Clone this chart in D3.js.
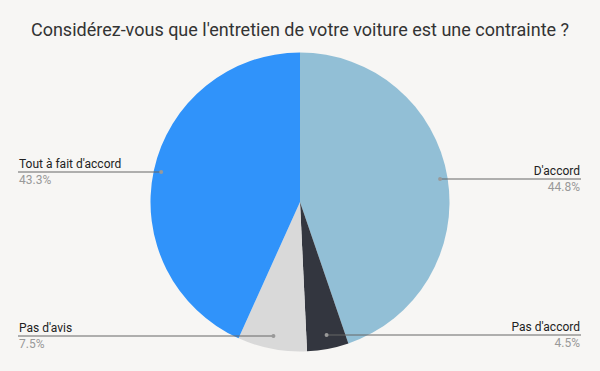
<!DOCTYPE html>
<html><head><meta charset="utf-8">
<script src="https://cdn.jsdelivr.net/npm/d3@7"></script>
<style>
html,body{margin:0;padding:0;background:#f7f6f4;}
svg{display:block;}
</style></head>
<body>
<svg id="c" width="600" height="371"></svg>
<script>
const title = "Considérez-vous que l'entretien de votre voiture est une contrainte ?";
const categories = ["D'accord", "Pas d'accord", "Pas d'avis", "Tout à fait d'accord"];
const values = [44.8, 4.5, 7.5, 43.3];
const colors = ["#92bfd6", "#33363f", "#d9d9d9", "#3093fa"];
// label side / row placement (layout only)
const labelSide = ["right", "right", "left", "left"];
const labelY = [175, 331, 332, 168];

const svg = d3.select("#c");
svg.append("rect").attr("width",600).attr("height",371).attr("fill","#f7f6f4");

svg.append("text").attr("x",300).attr("y",36).attr("text-anchor","middle")
  .attr("font-family","Roboto, sans-serif").attr("font-size",18).attr("fill","#333")
  .text(title);

const cx = 300, cy = 202, R = 149.5;
const data = categories.map((c,i)=>({cat:c, value:values[i], color:colors[i], i}));
const pie = d3.pie().sort(null).value(d=>d.value);
const arcs = pie(data);
const arc = d3.arc().innerRadius(0).outerRadius(R);
const g = svg.append("g").attr("transform",`translate(${cx},${cy})`);
g.selectAll("path").data(arcs).join("path").attr("d",arc).attr("fill",d=>d.data.color);

const inner = d3.arc().innerRadius(142).outerRadius(142);
const fmt = v => v.toFixed(1) + "%";
arcs.forEach((a,k)=>{
  const [px,py] = inner.centroid(a);
  const x0 = cx+px, y0 = cy+py;
  const side = labelSide[k];
  const ty = labelY[k];
  const lineY = ty + 4;
  const xEnd = side === "right" ? 581 : 18;
  let pts;
  if (Math.abs(y0 - lineY) < 12) {
    pts = [[x0,y0],[xEnd,lineY]];
    pts = [[x0,y0],[x0,lineY],[xEnd,lineY]];
    pts = [[x0,lineY],[xEnd,lineY]];
  } else {
    const knee = side === "right" ? x0 + 130 : x0 - 128;
    pts = [[x0,y0],[knee,lineY],[xEnd,lineY]];
  }
  svg.append("path").attr("d", d3.line()(pts)).attr("fill","none")
    .attr("stroke","#666").attr("stroke-width",1);
  svg.append("circle").attr("cx",pts[0][0]).attr("cy",pts[0][1]).attr("r",2).attr("fill","#999");
  const tx = side === "right" ? 580 : 19;
  const anchor = side === "right" ? "end" : "start";
  svg.append("text").attr("x",tx).attr("y",ty).attr("text-anchor",anchor)
    .attr("font-family","Roboto, Arial, sans-serif").attr("font-size",12).attr("fill","#222")
    .text(a.data.cat);
  svg.append("text").attr("x",tx).attr("y",ty+16).attr("text-anchor",anchor)
    .attr("font-family","Roboto, Arial, sans-serif").attr("font-size",12).attr("fill","#999")
    .text(fmt(a.data.value));
});
</script>
</body></html>
